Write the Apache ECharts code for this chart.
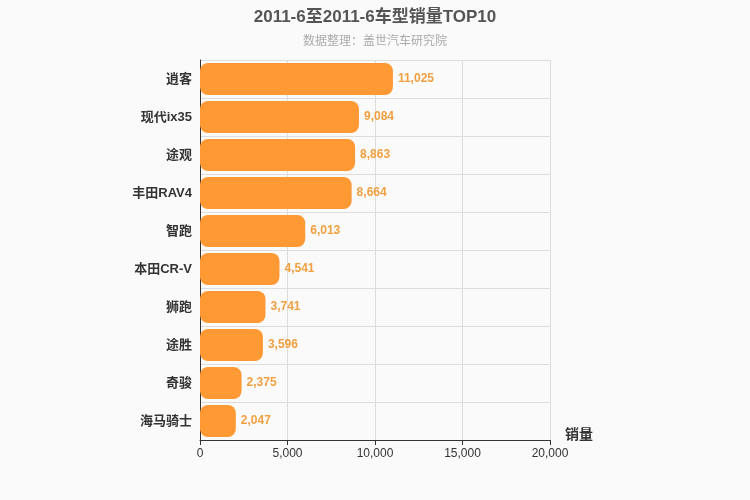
<!DOCTYPE html>
<html><head><meta charset="utf-8">
<script src="https://cdn.jsdelivr.net/npm/echarts@6/dist/echarts.min.js"></script>
<style>html,body{margin:0;padding:0;background:#fafafa}#c{width:750px;height:500px}</style>
</head><body><div id="c"></div>
<script>
const categories = ['逍客','现代ix35','途观','丰田RAV4','智跑','本田CR-V','狮跑','途胜','奇骏','海马骑士'];
const sales = [11025,9084,8863,8664,6013,4541,3741,3596,2375,2047];
const xTicks = [0,5000,10000,15000,20000];
const chart = echarts.init(document.getElementById('c'));
chart.setOption({
  backgroundColor:'#fafafa',
  textStyle:{fontFamily:'Arial, "Noto Sans CJK SC", sans-serif'},
  title:{text:'2011-6至2011-6车型销量TOP10',subtext:'数据整理：盖世汽车研究院',left:'center',top:4,
    textStyle:{fontSize:17,fontWeight:'bold',color:'#555'},subtextStyle:{fontSize:12,color:'#aaa'},itemGap:10},
  grid:{left:200,right:200,top:60,bottom:60},
  xAxis:{type:'value',min:xTicks[0],max:xTicks[xTicks.length-1],interval:5000,name:'销量',
    nameLocation:'end',nameGap:15,nameTextStyle:{fontSize:14,fontWeight:'bold',color:'#333',verticalAlign:'bottom',padding:[0,0,-2,0]},
    axisLine:{show:true,lineStyle:{color:'#333'}},axisTick:{show:true,lineStyle:{color:'#333'}},
    axisLabel:{color:'#333',fontSize:12,formatter:v=>v.toLocaleString('en-US')},
    splitLine:{lineStyle:{color:'#ddd'}}},
  yAxis:{type:'category',data:categories,inverse:true,
    axisLine:{lineStyle:{color:'#333'}},axisTick:{show:false},
    axisLabel:{color:'#333',fontSize:13,fontWeight:'bold'},
    splitLine:{show:true,lineStyle:{color:'#ddd'}}},
  series:[{type:'bar',data:sales,barWidth:32,
    itemStyle:{color:'#ff9933',borderRadius:8},
    label:{show:true,position:'right',color:'#f0a040',fontSize:12,fontWeight:'bold',
      formatter:p=>p.value.toLocaleString('en-US')}}]
});
</script></body></html>
